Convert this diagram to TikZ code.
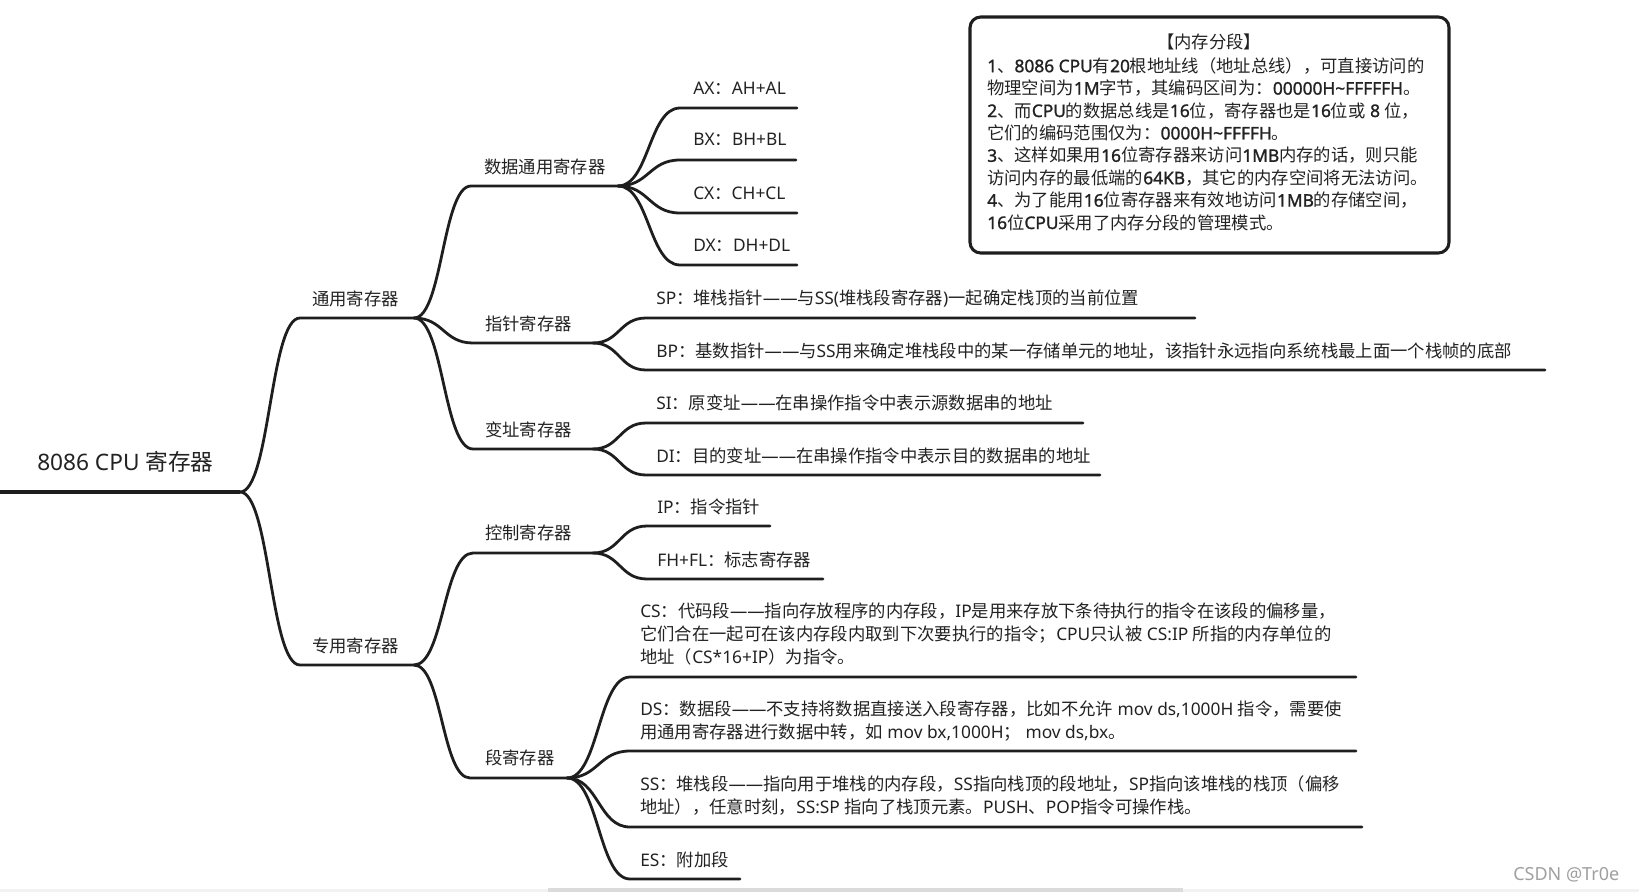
\documentclass[tikz,border=0pt]{standalone}
\usepackage{fontspec}
\setmainfont{Noto Sans}[BoldFont={Noto Sans}, BoldFeatures={FakeBold=1.3}]
\newfontfamily\cjkf{Noto Sans CJK SC}
\XeTeXinterchartokenstate=1
\newXeTeXintercharclass\CJKcls
\newcount\ccnt
\ccnt="3000 \loop\XeTeXcharclass\ccnt=\CJKcls\advance\ccnt by 1 \ifnum\ccnt<"3040 \repeat
\ccnt="4E00 \loop\XeTeXcharclass\ccnt=\CJKcls\advance\ccnt by 1 \ifnum\ccnt<"A000 \repeat
\ccnt="FF00 \loop\XeTeXcharclass\ccnt=\CJKcls\advance\ccnt by 1 \ifnum\ccnt<"FFF0 \repeat
\XeTeXinterchartoks 0 \CJKcls = {\cjkf}
\XeTeXinterchartoks 4095 \CJKcls = {\cjkf}
\XeTeXinterchartoks \CJKcls 0 = {\rmfamily}
\XeTeXinterchartoks \CJKcls 4095 = {\rmfamily}
\definecolor{ink}{HTML}{1E1E1E}
\definecolor{txt}{HTML}{222222}
\tikzset{
  lnk/.style={line width=2.1pt, draw=ink, line cap=round},
  rootln/.style={line width=3pt, draw=ink},
  topic/.style={anchor=base west, inner sep=0pt, text=txt, font=\fontsize{13pt}{16.9pt}\selectfont},
  multi/.style={topic, align=left},
  roottxt/.style={anchor=base west, inner sep=0pt, text=txt, font=\fontsize{17pt}{20pt}\selectfont},
  infobox/.style={draw=ink, line width=2.3pt, rounded corners=8},
}
\begin{document}
\begin{tikzpicture}[x=0.75pt,y=-0.75pt]
\useasboundingbox (0,0) rectangle (1639,892);
% bottom bars
\fill[gray!10] (0,889) rectangle (1639,892);
\fill[gray!28] (548,888) rectangle (1183,892);

% coordinates
\coordinate (r0) at (0,492);
\coordinate (rb) at (240,492);
\coordinate (s1) at (300,318);  \coordinate (b1) at (414,318);
\coordinate (s2) at (300,665);  \coordinate (b2) at (414,665);
\coordinate (s11) at (471,186); \coordinate (b11) at (618,186);
\coordinate (s12) at (473,343); \coordinate (b12) at (593,343);
\coordinate (s13) at (473,449); \coordinate (b13) at (593,449);
\coordinate (s21) at (473,553); \coordinate (b21) at (593,553);
\coordinate (s22) at (470,778); \coordinate (b22) at (567,778);
\coordinate (sAX) at (680,108); \coordinate (eAX) at (797,108);
\coordinate (sBX) at (680,160); \coordinate (eBX) at (796,160);
\coordinate (sCX) at (680,213); \coordinate (eCX) at (797,213);
\coordinate (sDX) at (680,265); \coordinate (eDX) at (797,265);
\coordinate (sSP) at (646,318); \coordinate (eSP) at (1195,318);
\coordinate (sBP) at (646,370); \coordinate (eBP) at (1545,370);
\coordinate (sSI) at (646,423); \coordinate (eSI) at (1083,423);
\coordinate (sDI) at (646,475); \coordinate (eDI) at (1100,475);
\coordinate (sIP) at (647,526); \coordinate (eIP) at (770,526);
\coordinate (sFH) at (647,579); \coordinate (eFH) at (823,579);
\coordinate (sCS) at (630,677); \coordinate (eCS) at (1356,677);
\coordinate (sDS) at (630,751); \coordinate (eDS) at (1356,751);
\coordinate (sSS) at (630,827); \coordinate (eSS) at (1362,827);
\coordinate (sES) at (630,879); \coordinate (eES) at (740,879);

% root
\draw[rootln] (r0) -- (rb);
\node[roottxt] (troot) at (37,470) {8086 CPU 寄存器};

% level 1
\draw[lnk] (rb) .. controls +(30,0) and +(-30,0) .. (s1) -- (b1);
\draw[lnk] (rb) .. controls +(30,0) and +(-30,0) .. (s2) -- (b2);
\node[topic] (t1) at (312,305) {通用寄存器};
\node[topic] (t2) at (312,652) {专用寄存器};

% level 2
\draw[lnk] (b1) .. controls +(28.5,0) and +(-28.5,0) .. (s11) -- (b11);
\draw[lnk] (b1) .. controls +(29.5,0) and +(-29.5,0) .. (s12) -- (b12);
\draw[lnk] (b1) .. controls +(29.5,0) and +(-29.5,0) .. (s13) -- (b13);
\draw[lnk] (b2) .. controls +(29.5,0) and +(-29.5,0) .. (s21) -- (b21);
\draw[lnk] (b2) .. controls +(28,0) and +(-28,0) .. (s22) -- (b22);
\node[topic] (t11) at (484,173) {数据通用寄存器};
\node[topic] (t12) at (485,330) {指针寄存器};
\node[topic] (t13) at (485,436) {变址寄存器};
\node[topic] (t21) at (485,539) {控制寄存器};
\node[topic] (t22) at (485,764) {段寄存器};

% level 3 : data registers
\draw[lnk] (b11) .. controls +(31,0) and +(-31,0) .. (sAX) -- (eAX);
\draw[lnk] (b11) .. controls +(31,0) and +(-31,0) .. (sBX) -- (eBX);
\draw[lnk] (b11) .. controls +(31,0) and +(-31,0) .. (sCX) -- (eCX);
\draw[lnk] (b11) .. controls +(31,0) and +(-31,0) .. (sDX) -- (eDX);
\node[topic] (tAX) at (693,94) {AX：AH+AL};
\node[topic] (tBX) at (693,146) {BX：BH+BL};
\node[topic] (tCX) at (693,199) {CX：CH+CL};
\node[topic] (tDX) at (693,251) {DX：DH+DL};

% pointer / index registers
\draw[lnk] (b12) .. controls +(26.5,0) and +(-26.5,0) .. (sSP) -- (eSP);
\draw[lnk] (b12) .. controls +(26.5,0) and +(-26.5,0) .. (sBP) -- (eBP);
\draw[lnk] (b13) .. controls +(26.5,0) and +(-26.5,0) .. (sSI) -- (eSI);
\draw[lnk] (b13) .. controls +(26.5,0) and +(-26.5,0) .. (sDI) -- (eDI);
\node[topic] (tSP) at (656,304) {SP：堆栈指针——与SS(堆栈段寄存器)一起确定栈顶的当前位置};
\node[topic] (tBP) at (656,357) {BP：基数指针——与SS用来确定堆栈段中的某一存储单元的地址，该指针永远指向系统栈最上面一个栈帧的底部};
\node[topic] (tSI) at (656,409) {SI：原变址——在串操作指令中表示源数据串的地址};
\node[topic] (tDI) at (656,462) {DI：目的变址——在串操作指令中表示目的数据串的地址};

% control registers
\draw[lnk] (b21) .. controls +(27,0) and +(-27,0) .. (sIP) -- (eIP);
\draw[lnk] (b21) .. controls +(27,0) and +(-27,0) .. (sFH) -- (eFH);
\node[topic] (tIP) at (657,513) {IP：指令指针};
\node[topic] (tFH) at (657,566) {FH+FL：标志寄存器};

% segment registers
\draw[lnk] (b22) .. controls +(31.5,0) and +(-31.5,0) .. (sCS) -- (eCS);
\draw[lnk] (b22) .. controls +(31.5,0) and +(-31.5,0) .. (sDS) -- (eDS);
\draw[lnk] (b22) .. controls +(31.5,0) and +(-31.5,0) .. (sSS) -- (eSS);
\draw[lnk] (b22) .. controls +(31.5,0) and +(-31.5,0) .. (sES) -- (eES);
\node[multi] (tCS) at (640,663) {CS：代码段——指向存放程序的内存段，IP是用来存放下条待执行的指令在该段的偏移量，\\它们合在一起可在该内存段内取到下次要执行的指令；CPU只认被 CS:IP 所指的内存单位的\\地址（CS*16+IP）为指令。};
\node[multi] (tDS) at (640,738) {DS：数据段——不支持将数据直接送入段寄存器，比如不允许 mov ds,1000H 指令，需要使\\用通用寄存器进行数据中转，如 mov bx,1000H； mov ds,bx。};
\node[multi] (tSS) at (640,813) {SS：堆栈段——指向用于堆栈的内存段，SS指向栈顶的段地址，SP指向该堆栈的栈顶（偏移\\地址），任意时刻，SS:SP 指向了栈顶元素。PUSH、POP指令可操作栈。};
\node[topic] (tES) at (640,866) {ES：附加段};

% info box
\draw[infobox] (970,17) rectangle (1449,253);
\node[topic, anchor=base] (bt) at (1209,49) {【内存分段】};
\node[multi, font=\fontsize{13pt}{16.8pt}\selectfont] (bx) at (987,229) {\textbf{1}、\textbf{8086 CPU}有\textbf{20}根地址线（地址总线），可直接访问的\\物理空间为\textbf{1M}字节，其编码区间为：\textbf{00000H\textasciitilde FFFFFH}。\\\textbf{2}、而\textbf{CPU}的数据总线是\textbf{16}位，寄存器也是\textbf{16}位或 \textbf{8} 位，\\它们的编码范围仅为：\textbf{0000H\textasciitilde FFFFH}。\\\textbf{3}、这样如果用\textbf{16}位寄存器来访问\textbf{1MB}内存的话，则只能\\访问内存的最低端的\textbf{64KB}，其它的内存空间将无法访问。\\\textbf{4}、为了能用\textbf{16}位寄存器来有效地访问\textbf{1MB}的存储空间，\\\textbf{16}位\textbf{CPU}采用了内存分段的管理模式。};

% watermark
\node[anchor=base west, inner sep=0pt, text=gray!75, font=\fontsize{13.5pt}{16pt}\selectfont] (wm) at (1513,880) {CSDN @Tr0e};
\end{tikzpicture}
\end{document}
